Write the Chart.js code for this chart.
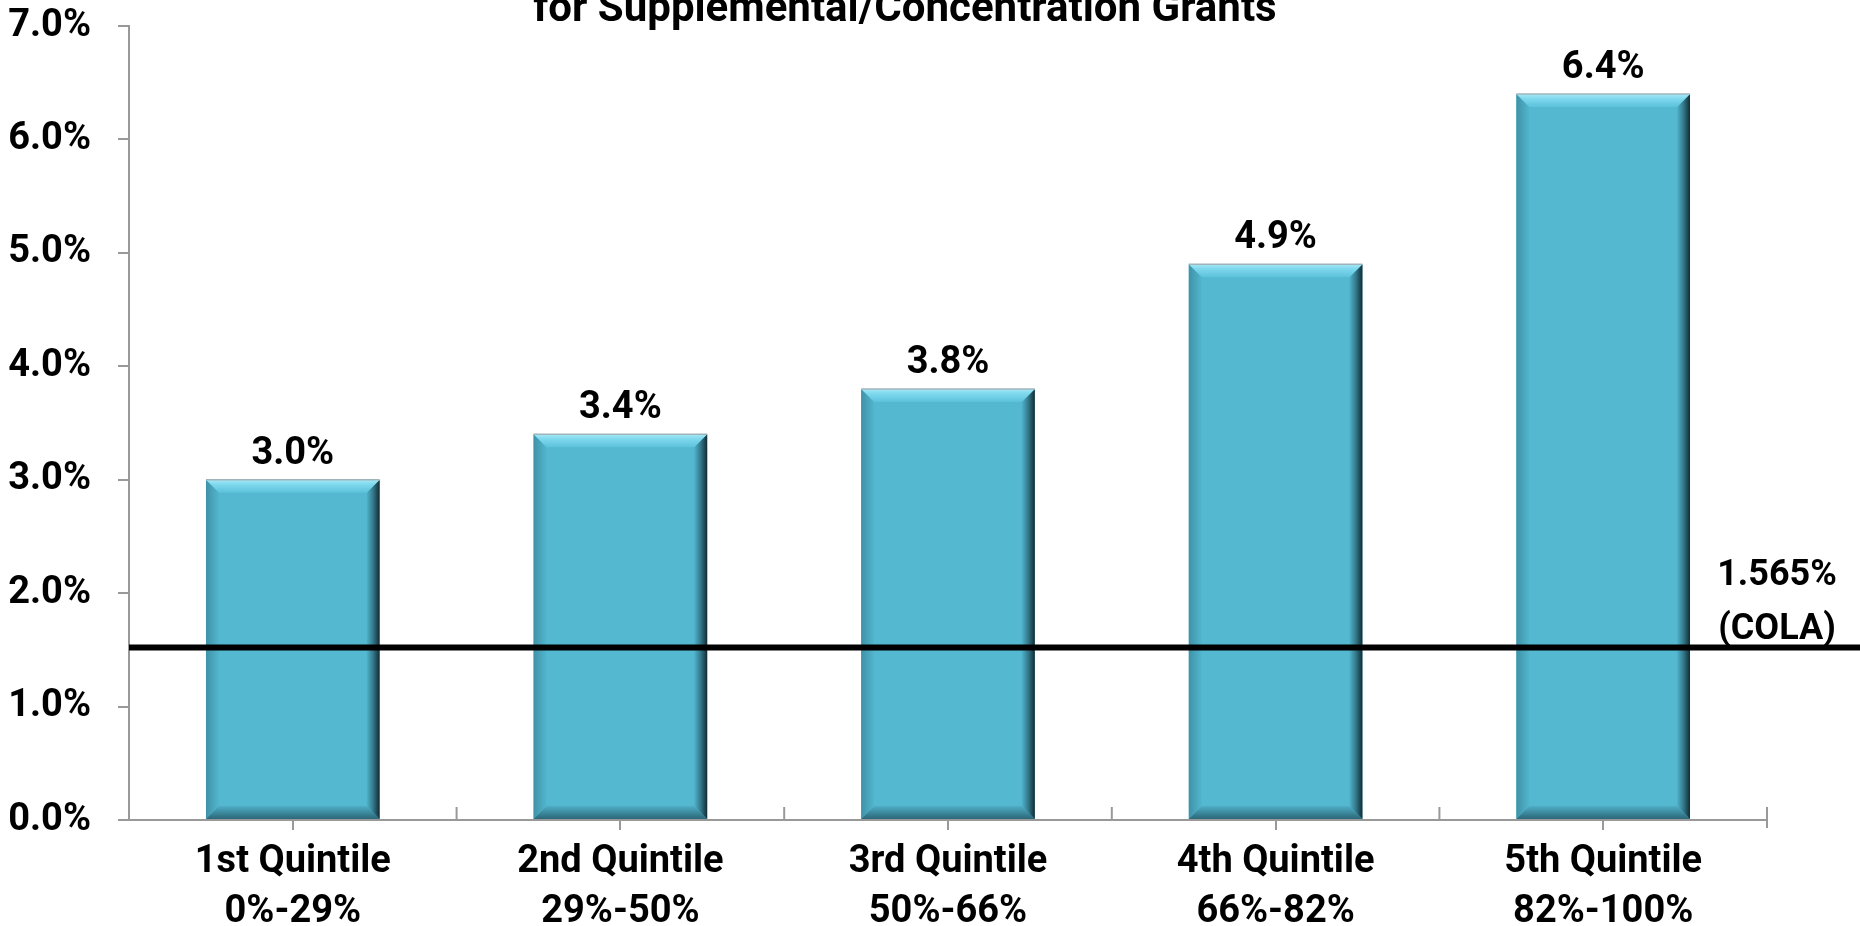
<!DOCTYPE html>
<html>
<head>
<meta charset="utf-8">
<script src="https://cdn.jsdelivr.net/npm/chart.js@4.4.1/dist/chart.umd.min.js"></script>
<style>
  html, body { margin: 0; padding: 0; background: #fff; overflow: hidden; }
  #wrap { position: relative; width: 1860px; height: 926px; }
  #title {
    position: absolute; left: 0; top: -17px; width: 1810px;
    text-align: center; font: bold 42px Roboto, "Liberation Sans", sans-serif;
    line-height: 48px; color: #000; white-space: nowrap;
  }
</style>
</head>
<body>
<div id="wrap">
  <canvas id="chart" width="1860" height="926"></canvas>
  <div id="title">for Supplemental/Concentration Grants</div>
</div>
<script>
const quintiles = ["1st Quintile", "2nd Quintile", "3rd Quintile", "4th Quintile", "5th Quintile"];
const ranges = ["0%-29%", "29%-50%", "50%-66%", "66%-82%", "82%-100%"];
const increases = [3.0, 3.4, 3.8, 4.9, 6.4];
const yTicks = [0, 1, 2, 3, 4, 5, 6, 7];
const colaText = ["1.565%", "(COLA)"];
const colaLevel = 1.52; // where the line sits in the picture

const fontFamily = 'Roboto, "Liberation Sans", sans-serif';

// bevelled look of the bars
const bevelPlugin = {
    id: "bevel",
    afterDatasetsDraw(chart) {
        const ctx = chart.ctx;
        const b = 13;
        chart.getDatasetMeta(0).data.forEach(bar => {
            const l = bar.x - bar.width / 2, r = bar.x + bar.width / 2;
            const t = bar.y, bt = bar.base;
            ctx.save();

            let g = ctx.createLinearGradient(l, 0, l + b, 0);
            g.addColorStop(0, "#3f92a7");
            g.addColorStop(1, "#52b6ce");
            ctx.fillStyle = g;
            ctx.beginPath();
            ctx.moveTo(l, t); ctx.lineTo(l + b, t + b); ctx.lineTo(l + b, bt - b); ctx.lineTo(l, bt);
            ctx.fill();

            g = ctx.createLinearGradient(0, bt - b, 0, bt);
            g.addColorStop(0, "#4eaec6");
            g.addColorStop(1, "#2c6777");
            ctx.fillStyle = g;
            ctx.beginPath();
            ctx.moveTo(l, bt); ctx.lineTo(l + b, bt - b); ctx.lineTo(r - b, bt - b); ctx.lineTo(r, bt);
            ctx.fill();

            g = ctx.createLinearGradient(r - b, 0, r, 0);
            g.addColorStop(0, "#50b3cb");
            g.addColorStop(0.5, "#33788a");
            g.addColorStop(1, "#122b33");
            ctx.fillStyle = g;
            ctx.beginPath();
            ctx.moveTo(r, t); ctx.lineTo(r - b, t + b); ctx.lineTo(r - b, bt - b); ctx.lineTo(r, bt);
            ctx.fill();

            g = ctx.createLinearGradient(0, t, 0, t + b);
            g.addColorStop(0, "#a6e8f6");
            g.addColorStop(0.35, "#7fd8ee");
            g.addColorStop(1, "#5cc2db");
            ctx.fillStyle = g;
            ctx.beginPath();
            ctx.moveTo(l, t); ctx.lineTo(r, t); ctx.lineTo(r - b, t + b); ctx.lineTo(l + b, t + b);
            ctx.fill();

            ctx.strokeStyle = "#9fb4ba";
            ctx.lineWidth = 1.5;
            ctx.beginPath();
            ctx.moveTo(l, t); ctx.lineTo(r, t);
            ctx.stroke();
            ctx.restore();
        });
    }
};

// value labels, category boundary ticks, COLA line
const extrasPlugin = {
    id: "extras",
    afterDraw(chart) {
        const ctx = chart.ctx;
        const area = chart.chartArea;
        const y = chart.scales.y;
        ctx.save();

        ctx.fillStyle = "#000";
        ctx.font = "bold 38px " + fontFamily;
        ctx.textAlign = "center";
        ctx.textBaseline = "alphabetic";
        chart.getDatasetMeta(0).data.forEach((bar, i) => {
            ctx.fillText(increases[i].toFixed(1) + "%", bar.x, bar.y - 16);
        });

        ctx.strokeStyle = "#999";
        ctx.lineWidth = 2;
        const w = (area.right - area.left) / quintiles.length;
        for (let i = 1; i <= quintiles.length; i++) {
            const px = area.left + i * w;
            ctx.beginPath();
            ctx.moveTo(px, area.bottom - 13);
            ctx.lineTo(px, area.bottom + (i === quintiles.length ? 8 : 0));
            ctx.stroke();
        }

        const ly = y.getPixelForValue(colaLevel);
        ctx.strokeStyle = "#000";
        ctx.lineWidth = 6;
        ctx.beginPath();
        ctx.moveTo(area.left, ly);
        ctx.lineTo(chart.width, ly);
        ctx.stroke();

        ctx.font = "bold 36px " + fontFamily;
        ctx.textAlign = "center";
        ctx.fillText(colaText[0], 1777, ly - 63);
        ctx.fillText(colaText[1], 1777, ly - 9);
        ctx.restore();
    }
};

const ctx = document.getElementById("chart").getContext("2d");
new Chart(ctx, {
    type: "bar",
    data: {
        labels: quintiles.map((q, i) => [q, ranges[i]]),
        datasets: [{
            data: increases,
            backgroundColor: "#53b8d0",
            borderWidth: 0,
            barPercentage: 0.53,
            categoryPercentage: 1.0
        }]
    },
    options: {
        responsive: false,
        animation: false,
        layout: { padding: { left: 0, right: 93, top: 26, bottom: 0 } },
        plugins: { legend: { display: false }, tooltip: { enabled: false } },
        scales: {
            x: {
                grid: { offset: false, drawOnChartArea: false, tickLength: 10, color: "#999", lineWidth: 2 },
                border: { color: "#999", width: 2 },
                ticks: {
                    color: "#000",
                    font: { family: fontFamily, size: 38, weight: "bold", lineHeight: 1.3 },
                    padding: 8,
                    maxRotation: 0
                },
                afterFit(scale) { scale.height = 106; }
            },
            y: {
                min: 0,
                max: 7,
                afterBuildTicks(scale) { scale.ticks = yTicks.map(v => ({ value: v })); },
                grid: { drawOnChartArea: false, tickLength: 11, color: "#999", lineWidth: 2 },
                border: { color: "#999", width: 2 },
                ticks: {
                    color: "#000",
                    font: { family: fontFamily, size: 38, weight: "bold" },
                    padding: 27,
                    callback: v => v.toFixed(1) + "%"
                },
                afterFit(scale) {
                    scale.width = 129;
                    scale.paddingTop = 0;
                    scale.paddingBottom = 0;
                }
            }
        }
    },
    plugins: [bevelPlugin, extrasPlugin]
});
</script>
</body>
</html>
